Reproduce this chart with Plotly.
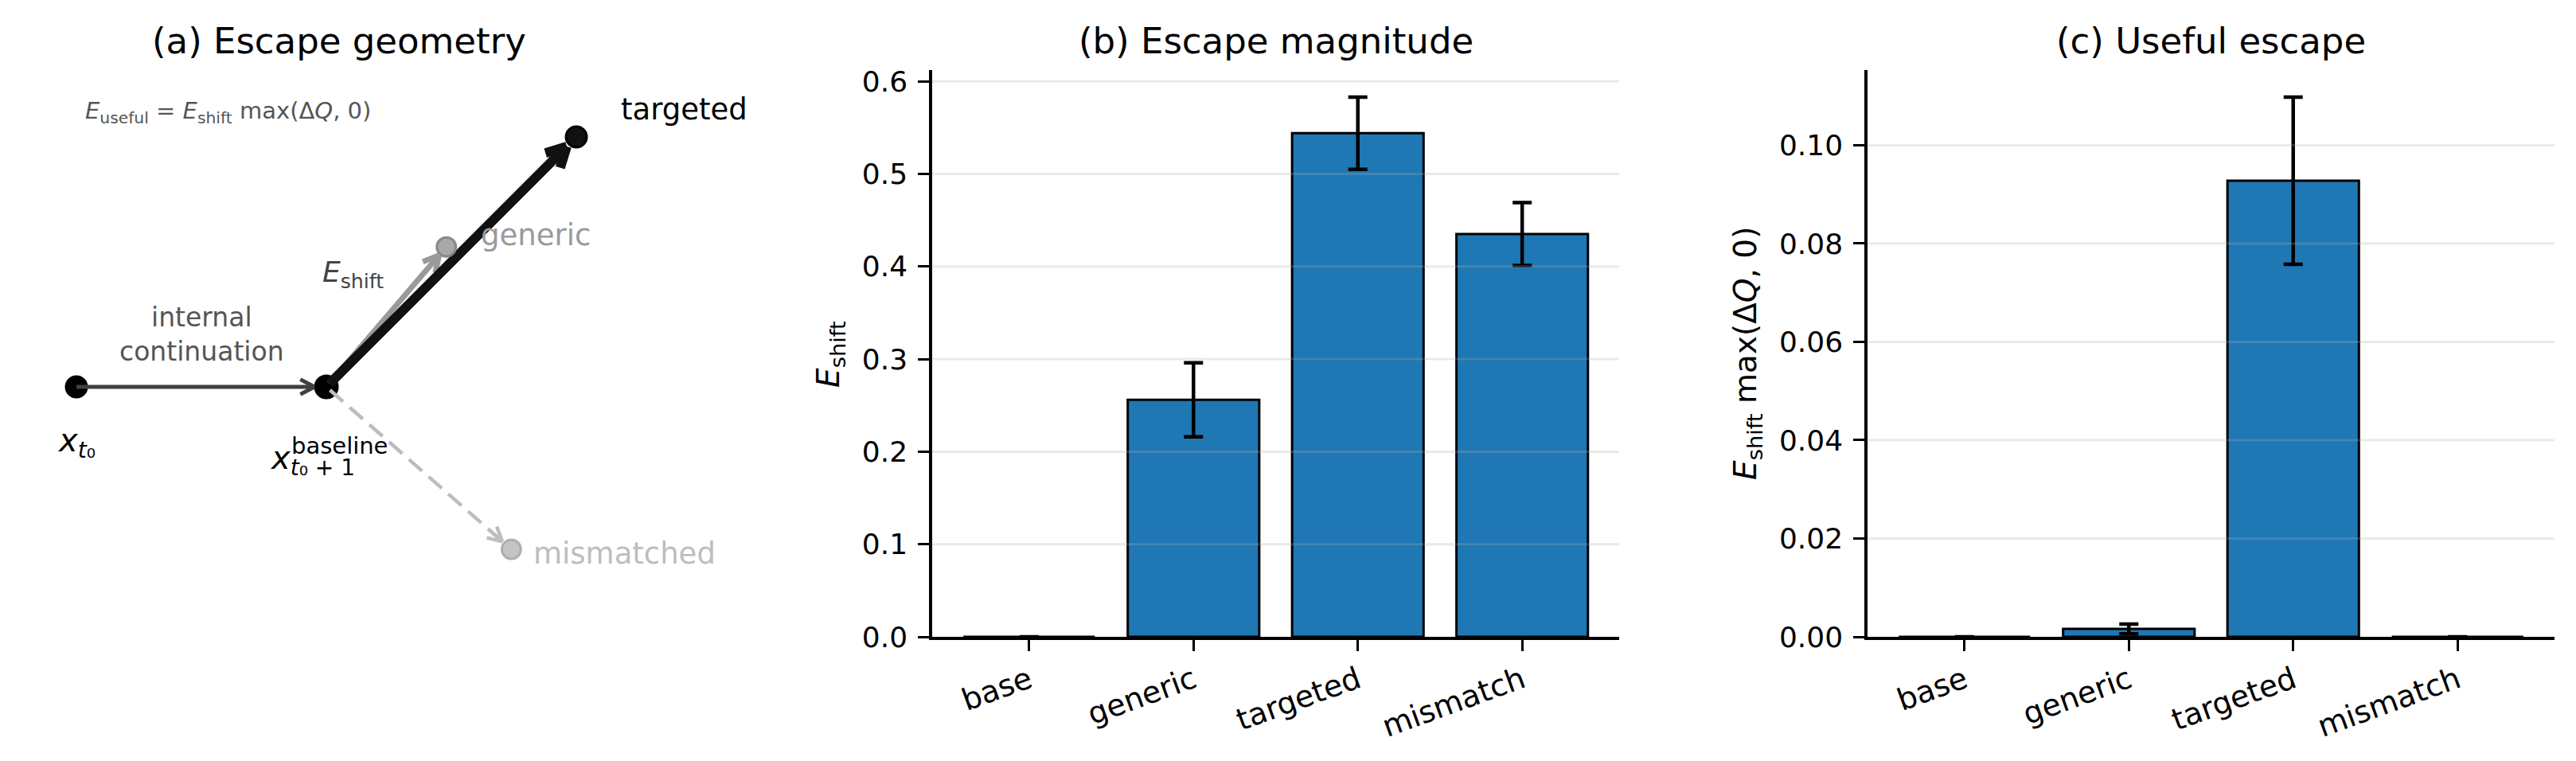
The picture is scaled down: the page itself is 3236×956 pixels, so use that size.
import math
import plotly.graph_objects as go

# ---------------- data ----------------
categories = ["base", "generic", "targeted", "mismatch"]
escape_magnitude = [0.0, 0.256, 0.544, 0.435]
escape_magnitude_err = [0.0, 0.040, 0.039, 0.034]
useful_escape = [0.0, 0.0016, 0.0928, 0.0]
useful_escape_err = [0.0, 0.0010, 0.0170, 0.0]
mag_ticks = [0.0, 0.1, 0.2, 0.3, 0.4, 0.5, 0.6]
useful_ticks = [0.0, 0.02, 0.04, 0.06, 0.08, 0.10]

# schematic geometry for panel (a), in schematic units
geo_names = ["x_t0", "baseline", "targeted", "generic", "mismatched"]
geo_x = [0.0, 1.0, 2.0, 1.48, 1.74]
geo_y = [0.0, 0.0, 1.0, 0.56, -0.65]

# ---------------- layout helpers ----------------
W, H = 3236, 956
FONT = "DejaVu Sans"
BLUE = "#1f77b4"


def px(x):
    return x / W


def py(y):
    return 1 - y / H


B_DOM = [px(1171), px(2034)]
C_DOM = [px(2346), px(3209)]
Y_DOM = [py(800), py(88)]
XR = [-0.59, 3.59]

# panel (a) pixel scale: 1 schematic unit = UNIT px; origin pixel
UNIT = 314.0
OX, OY = 96.0, 486.0
A_XDOM = [0.0, px(1000)]
A_XR = [(0 - OX) / UNIT, (1000 - OX) / UNIT]
A_YR = [(OY - H) / UNIT, OY / UNIT]

fig = go.Figure()

# ---------------- panel (b) & (c) bars ----------------
xs = list(range(len(categories)))
for vals, errs, xa, ya in [
    (escape_magnitude, escape_magnitude_err, "x", "y"),
    (useful_escape, useful_escape_err, "x2", "y2"),
]:
    fig.add_trace(go.Bar(
        x=xs, y=vals, width=0.8, xaxis=xa, yaxis=ya,
        marker=dict(color=BLUE, line=dict(color="black", width=3)),
        error_y=dict(type="data", array=errs, visible=True,
                     color="black", thickness=4.5, width=12),
        showlegend=False, hoverinfo="skip",
    ))

# ---------------- panel (a) schematic ----------------
P = {n: (x, y) for n, x, y in zip(geo_names, geo_x, geo_y)}


def add_points(names, colors, edges, sizes):
    for n, c, e, s in zip(names, colors, edges, sizes):
        fig.add_trace(go.Scatter(
            x=[P[n][0]], y=[P[n][1]], mode="markers", xaxis="x3", yaxis="y3",
            marker=dict(color=c, size=s, line=dict(color=e, width=3)),
            showlegend=False, hoverinfo="skip"))


add_points(["x_t0", "baseline"], ["black", "black"], ["black", "black"], [26, 28])

arrows = [
    # start, end, color, width, dash, head length px, shrinkA px, shrinkB px
    ("x_t0", "baseline", "#404040", 5, "solid", 20, 0, 15),
    ("baseline", "mismatched", "#bdbdbd", 4.5, "22px,11px", 20, 6, 15),
    ("baseline", "generic", "#9a9a9a", 7, "solid", 22, 6, 14),
    ("baseline", "targeted", "#111111", 12, "solid", 28, 6, 17),
]
ANG = math.radians(28)
for s, e, col, lw, dash, hl, sa, sb in arrows:
    x0, y0 = P[s]
    x1, y1 = P[e]
    dx, dy = x1 - x0, y1 - y0
    L = math.hypot(dx, dy)
    ux, uy = dx / L, dy / L
    ax0, ay0 = x0 + ux * sa / UNIT, y0 + uy * sa / UNIT
    tx, ty = x1 - ux * sb / UNIT, y1 - uy * sb / UNIT
    fig.add_trace(go.Scatter(
        x=[ax0, tx], y=[ay0, ty], mode="lines", xaxis="x3", yaxis="y3",
        line=dict(color=col, width=lw, dash=dash),
        showlegend=False, hoverinfo="skip"))
    hx, hy = [], []
    for sgn in (1, -1):
        bx, by = -ux, -uy
        rx = bx * math.cos(sgn * ANG) - by * math.sin(sgn * ANG)
        ry = bx * math.sin(sgn * ANG) + by * math.cos(sgn * ANG)
        hx += [tx + rx * hl / UNIT, tx, None]
        hy += [ty + ry * hl / UNIT, ty, None]
    fig.add_trace(go.Scatter(
        x=hx, y=hy, mode="lines", xaxis="x3", yaxis="y3",
        line=dict(color=col, width=lw),
        showlegend=False, hoverinfo="skip"))

add_points(["generic", "mismatched", "targeted"],
           ["rgba(160,160,160,0.9)", "rgba(190,190,190,0.9)", "#111111"],
           ["rgba(130,130,130,0.9)", "rgba(170,170,170,0.9)", "#000000"],
           [24, 24, 26])

ann = []


def a_label(name, text, xshift, yshift, size, color, xanchor="left"):
    ann.append(dict(x=P[name][0], y=P[name][1], xref="x3", yref="y3",
                    text=text, showarrow=False, xshift=xshift, yshift=yshift,
                    xanchor=xanchor, yanchor="middle",
                    font=dict(family=FONT, size=size, color=color)))


a_label("targeted", "targeted", 54, 35, 37, "black")
a_label("generic", "generic", 41, 15, 37, "#9a9a9a")
a_label("mismatched", "mismatched", 26, -5, 37, "#bdbdbd")
a_label("baseline", "<i>E</i><sub>shift</sub>", 33, 142, 36, "#444444", "center")
a_label("x_t0", "<i>x</i><sub><i>t</i>₀</sub>", 0, -70, 40, "black", "center")
a_label("baseline", "<i>x</i><sub><i>t</i>₀ + 1</sub>", -73, -92, 40, "black")
a_label("baseline", "baseline", -46, -74, 29, "black")
# internal continuation, between x_t0 and baseline
ann.append(dict(x=(P["x_t0"][0] + P["baseline"][0]) / 2, y=P["x_t0"][1],
                xref="x3", yref="y3", text="internal<br>continuation",
                showarrow=False, yshift=66, xanchor="center", yanchor="middle",
                font=dict(family=FONT, size=33, color="#555555")))
ann.append(dict(x=px(105), y=py(141), xref="paper", yref="paper",
                text="<i>E</i><sub>useful</sub> = <i>E</i><sub>shift</sub> max(Δ<i>Q</i>, 0)",
                showarrow=False, xanchor="left", yanchor="middle",
                font=dict(family=FONT, size=29, color="#555555")))

# titles
for t, cx in [("(a) Escape geometry", px(426)),
              ("(b) Escape magnitude", (B_DOM[0] + B_DOM[1]) / 2),
              ("(c) Useful escape", (C_DOM[0] + C_DOM[1]) / 2)]:
    ann.append(dict(x=cx, y=py(52), xref="paper", yref="paper", text=t,
                    showarrow=False, xanchor="center", yanchor="middle",
                    font=dict(family=FONT, size=45, color="black")))

# y-axis titles
ann.append(dict(x=px(1043), y=py(445), xref="paper", yref="paper",
                text="<i>E</i><sub>shift</sub>", textangle=-90, showarrow=False,
                xanchor="center", yanchor="middle",
                font=dict(family=FONT, size=39, color="black")))
ann.append(dict(x=px(2195), y=py(444), xref="paper", yref="paper",
                text="<i>E</i><sub>shift</sub> max(Δ<i>Q</i>, 0)", textangle=-90,
                showarrow=False, xanchor="center", yanchor="middle",
                font=dict(family=FONT, size=39, color="black")))

# gridlines drawn over bars (semi-transparent)
shapes = []
for ticks, xr, yr in [(mag_ticks, "x domain", "y"), (useful_ticks, "x2 domain", "y2")]:
    for t in ticks[1:]:
        shapes.append(dict(type="line", xref=xr, yref=yr, x0=0, x1=1, y0=t, y1=t,
                           line=dict(color="rgba(170,170,170,0.25)", width=3),
                           layer="above"))

axis_common = dict(showline=True, linecolor="black", linewidth=3.5,
                   ticks="outside", ticklen=14, tickwidth=3, tickcolor="black",
                   showgrid=False, zeroline=False, automargin=False)
yfont = dict(family=FONT, size=36, color="black")
xfont = dict(family=FONT, size=38, color="black")

ymax_b = max(v + e for v, e in zip(escape_magnitude, escape_magnitude_err)) * 1.05
ymax_c = max(v + e for v, e in zip(useful_escape, useful_escape_err)) * 1.05

fig.update_layout(
    width=W, height=H, margin=dict(l=0, r=0, t=0, b=0, autoexpand=False),
    paper_bgcolor="white", plot_bgcolor="rgba(0,0,0,0)",
    font=dict(family=FONT),
    xaxis=dict(domain=B_DOM, anchor="y", range=XR, tickvals=xs, ticktext=categories,
               tickangle=-20, ticklabelstandoff=0, tickfont=xfont, **axis_common),
    yaxis=dict(domain=Y_DOM, anchor="x", range=[0, ymax_b], tickvals=mag_ticks,
               ticktext=[f"{t:.1f}" for t in mag_ticks], ticklabelstandoff=6,
               tickfont=yfont, **axis_common),
    xaxis2=dict(domain=C_DOM, anchor="y2", range=XR, tickvals=xs, ticktext=categories,
                tickangle=-20, ticklabelstandoff=0, tickfont=xfont, **axis_common),
    yaxis2=dict(domain=Y_DOM, anchor="x2", range=[0, ymax_c], tickvals=useful_ticks,
                ticktext=[f"{t:.2f}" for t in useful_ticks], ticklabelstandoff=6,
                tickfont=yfont, **axis_common),
    xaxis3=dict(domain=A_XDOM, anchor="y3", range=A_XR, visible=False, automargin=False),
    yaxis3=dict(domain=[0, 1], anchor="x3", range=A_YR, visible=False, automargin=False),
    annotations=ann, shapes=shapes,
)

fig.write_html("out.html")
